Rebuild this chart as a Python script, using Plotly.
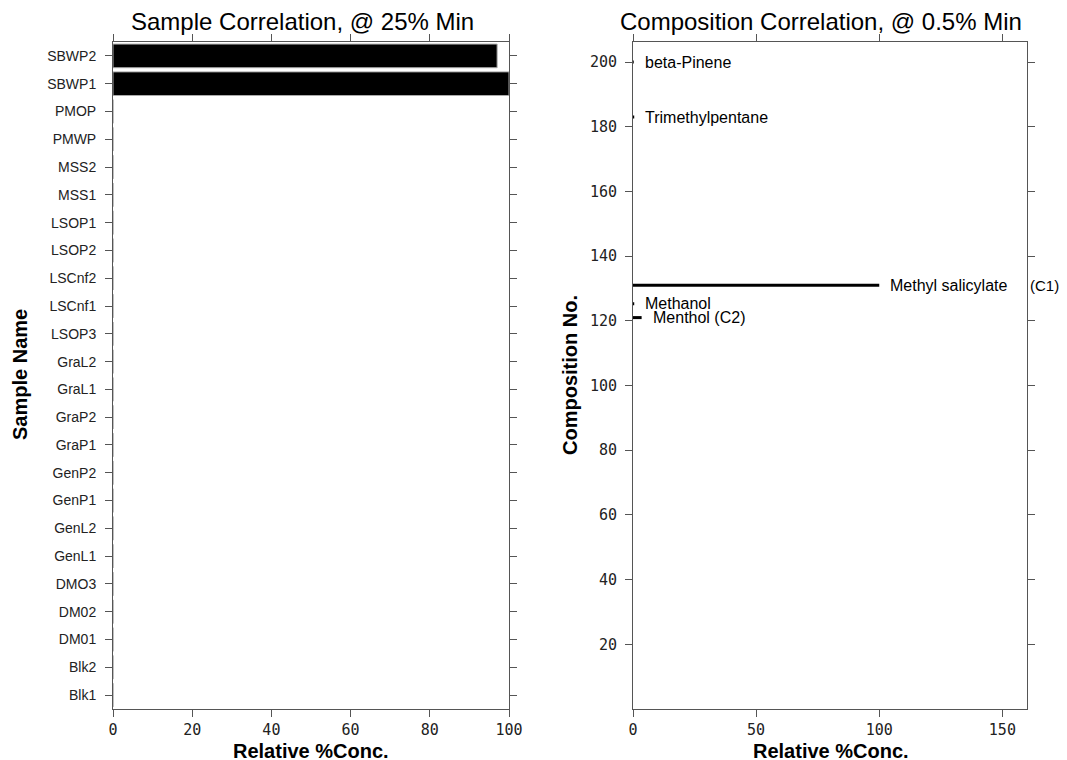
import plotly.graph_objects as go

samples = ["Blk1", "Blk2", "DM01", "DM02", "DMO3", "GenL1", "GenL2", "GenP1", "GenP2",
           "GraP1", "GraP2", "GraL1", "GraL2", "LSOP3", "LSCnf1", "LSCnf2", "LSOP2",
           "LSOP1", "MSS1", "MSS2", "PMWP", "PMOP", "SBWP1", "SBWP2"]
sample_vals = [0, 0, 0, 0, 0, 0, 0, 0, 0, 0, 0, 0, 0, 0, 0, 0, 0, 0, 0, 0, 0, 0, 100, 97]

comp_names = ["beta-Pinene", "Trimethylpentane", "Methyl salicylate", "Methanol", "Menthol (C2)"]
comp_no = [200, 183, 131, 125.3, 121]
comp_vals = [0.3, 0.5, 100, 0.5, 3.5]

# page body has an 8px margin, so the figure is drawn 8px in from the window corner
W, H, OFF = 1067, 760, 8


def px(x):
    return (x - OFF) / W


def py(y):
    return 1 - (y - OFF) / H


fig = go.Figure()

fig.add_trace(go.Bar(
    y=samples, x=sample_vals, orientation="h",
    marker=dict(color="black", line=dict(color="#aaaaaa", width=1)),
    xaxis="x", yaxis="y", showlegend=False,
))

lblfont = dict(family="Liberation Sans, Arial", size=16, color="black")
for name, n, v in zip(comp_names, comp_no, comp_vals):
    fig.add_trace(go.Scatter(
        x=[0, v], y=[n, n], mode="lines",
        line=dict(color="black", width=3),
        xaxis="x2", yaxis="y2", showlegend=False, cliponaxis=False,
    ))
    fig.add_annotation(x=v, y=n, xref="x2", yref="y2", text=name, showarrow=False,
                       xanchor="left", xshift=9, font=lblfont)

fig.add_annotation(x=comp_vals[2], y=comp_no[2], xref="x2", yref="y2", text="(C1)", showarrow=False,
                   xanchor="left", xshift=149, font=dict(family="Liberation Sans, Arial", size=15, color="black"))

axis_common = dict(showline=True, linecolor="#555", linewidth=1, mirror="ticks", ticks="outside",
                   ticklen=7, tickcolor="#555", showgrid=False, zeroline=False, automargin=False)
mono = dict(family="DejaVu Sans Mono", size=15, color="#222")
sans = dict(family="Liberation Sans, Arial", size=14, color="#222")
titlefont = dict(family="Liberation Sans, Arial", size=20, color="black", weight="bold")
headfont = dict(family="Liberation Sans, Arial", size=24, color="black")

ydom = [py(709), py(42)]
fig.update_layout(
    width=W, height=H, autosize=False,
    margin=dict(l=0, r=0, t=0, b=0, pad=0),
    plot_bgcolor="white", paper_bgcolor="white",
    bargap=0.15,
    xaxis=dict(domain=[px(113), px(509)], range=[0, 100], tickvals=[0, 20, 40, 60, 80, 100],
               tickfont=mono, anchor="y", ticklabelstandoff=0, **axis_common),
    yaxis=dict(domain=ydom, range=[-0.5, 23.5], tickfont=sans, ticklabelstandoff=6,
               anchor="x", **axis_common),
    xaxis2=dict(domain=[px(633), px(1027)], range=[0, 160], tickvals=[0, 50, 100, 150],
                tickfont=mono, anchor="y2", ticklabelstandoff=0, **axis_common),
    yaxis2=dict(domain=ydom, range=[0, 206.2], tickvals=list(range(20, 201, 20)),
                tickfont=mono, anchor="x2", ticklabelstandoff=5, **axis_common),
)

def paper_text(text, x, y, font, angle=0):
    fig.add_annotation(text=text, x=px(x), y=py(y), xref="paper", yref="paper",
                       xanchor="center", yanchor="middle", showarrow=False, font=font,
                       textangle=angle)

paper_text("Sample Correlation, @ 25% Min", 302, 22, headfont)
paper_text("Composition Correlation, @ 0.5% Min", 821, 22, headfont)
paper_text("Relative %Conc.", 311, 751, titlefont)
paper_text("Relative %Conc.", 831, 751, titlefont)
paper_text("Sample Name", 20, 375, titlefont, -90)
paper_text("Composition No.", 570, 375, titlefont, -90)

fig.write_html("out.html")
